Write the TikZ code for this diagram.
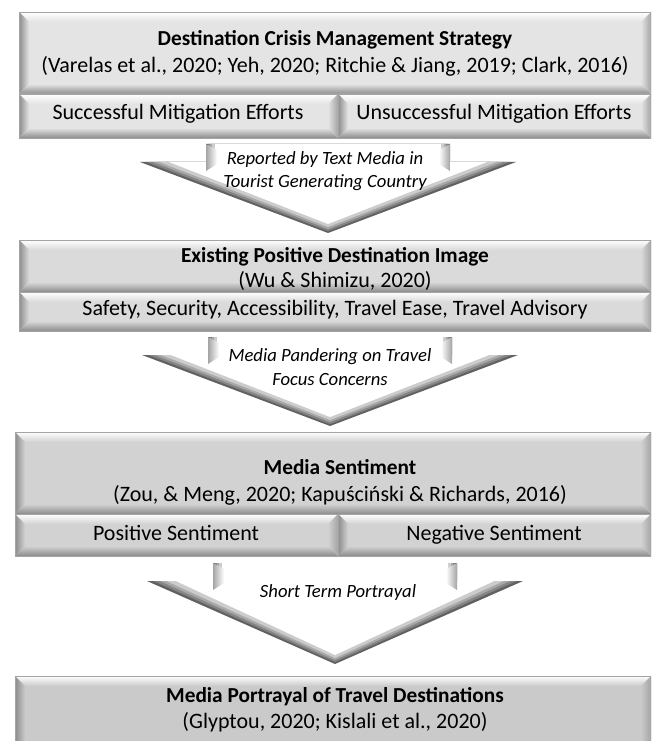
\documentclass[tikz,border=0pt]{standalone}
\usepackage{fontspec}
\setmainfont{Carlito}
\definecolor{colorOne}{HTML}{E4E4E4}
\definecolor{colorTwo}{HTML}{DADADA}
\definecolor{colorThree}{HTML}{D2D2D2}
\definecolor{colorFour}{HTML}{CACACA}
\definecolor{colorEdge}{HTML}{8C8C8C}
\definecolor{colorLine}{HTML}{A4A4A4}
\tikzset{
  title node/.style={font=\fontsize{16}{19}\selectfont\bfseries,inner sep=0pt,text height=11pt,text depth=4pt},
  cite node/.style={font=\fontsize{16.5}{19}\selectfont,inner sep=0pt,text height=11pt,text depth=4pt},
  arrow node/.style={font=\fontsize{14}{17.5}\selectfont\itshape,inner sep=0pt,align=center},
}
% bevelled box: x1, y1, x2, y2, face colour
\newcommand{\bevelbox}[5]{%
  \fill[#5] (#1,#2) rectangle (#3,#4);
  \shade[top color=white,bottom color=#5] (#1,#2)--(#3,#2)--({#3-10},{#2+10})--({#1+10},{#2+10})--cycle;
  \shade[left color=colorEdge,right color=#5] (#1,#2)--({#1+10},{#2+10})--({#1+10},{#4-10})--(#1,#4)--cycle;
  \shade[top color=#5,bottom color=colorEdge] (#1,#4)--({#1+10},{#4-10})--({#3-10},{#4-10})--(#3,#4)--cycle;
  \shade[left color=#5,right color=colorLine] (#3,#2)--(#3,#4)--({#3-10},{#4-10})--({#3-10},{#2+10})--cycle;
  \draw[colorLine,line width=0.4pt] (#1,#2) rectangle (#3,#4);
}
% chevron arrow: centre x, top y, tip y
\newcommand{\chevron}[3]{%
  \foreach \d/\c in {0/62,2/48,4/34,6/20,9/0}{
    \fill[black!\c!white] ({#1-122+\d},#2)--({#1+122-\d},#2)--({#1+122-\d},{#2+18})
      --({#1+188-3.2*\d},{#2+18})--(#1,{#3-\d})--({#1-188+3.2*\d},{#2+18})--({#1-122+\d},{#2+18})--cycle;
  }
  \shade[left color=colorLine,right color=white] ({#1-122},#2)--({#1-111},{#2+6})--({#1-111},{#2+20})--({#1-122},{#2+27})--cycle;
  \shade[left color=white,right color=colorLine] ({#1+122},#2)--({#1+111},{#2+6})--({#1+111},{#2+20})--({#1+122},{#2+27})--cycle;
}

\begin{document}
\begin{tikzpicture}[x=0.75pt,y=-0.75pt]
   \useasboundingbox (0,0) rectangle (651,741);
   \clip (0,0) rectangle (651,741);
   \fill[white] (0,0) rectangle (651,741);

   % DRAW BOXES
   \bevelbox{19}{12}{651}{94}{colorOne}
   \bevelbox{19}{94}{338}{138}{colorOne}
   \bevelbox{338}{94}{651}{138}{colorOne}

   \bevelbox{19}{240}{651}{292}{colorTwo}
   \bevelbox{19}{292}{651}{331}{colorTwo}

   \bevelbox{15}{432}{651}{514}{colorThree}
   \bevelbox{15}{514}{338}{556}{colorThree}
   \bevelbox{338}{514}{651}{556}{colorThree}

   \bevelbox{15}{676}{651}{752}{colorFour}

   % DRAW ARROWS
   \chevron{328}{144}{233}
   \chevron{330}{337}{426}
   \chevron{335}{563}{664}

   % NODES
   \node[title node] (strategy) at (335,41) {Destination Crisis Management Strategy};
   \node[cite node] (strategyRef) at (335,68) {(Varelas et al., 2020; Yeh, 2020; Ritchie \& Jiang, 2019; Clark, 2016)};
   \node[cite node] (success) at (178,115) {Successful Mitigation Efforts};
   \node[cite node] (failure) at (494,115) {Unsuccessful Mitigation Efforts};

   \node[arrow node] (reported) at (325,171) {Reported by Text Media in\\Tourist Generating Country};

   \node[title node] (image) at (335,258) {Existing Positive Destination Image};
   \node[cite node] (imageRef) at (335,283) {(Wu \& Shimizu, 2020)};
   \node[cite node] (concerns) at (335,311) {Safety, Security, Accessibility, Travel Ease, Travel Advisory};

   \node[arrow node] (pandering) at (330,367) {Media Pandering on Travel\\Focus Concerns};

   \node[title node] (sentiment) at (340,470) {Media Sentiment};
   \node[cite node] (sentimentRef) at (340,497) {(Zou, \& Meng, 2020; Kapuściński \& Richards, 2016)};
   \node[cite node] (positive) at (176,536) {Positive Sentiment};
   \node[cite node] (negative) at (494,536) {Negative Sentiment};

   \node[arrow node] (shortTerm) at (338,593) {Short Term Portrayal};

   \node[title node] (portrayal) at (335,698) {Media Portrayal of Travel Destinations};
   \node[cite node] (portrayalRef) at (335,724) {(Glyptou, 2020; Kislali et al., 2020)};
\end{tikzpicture}
\end{document}
